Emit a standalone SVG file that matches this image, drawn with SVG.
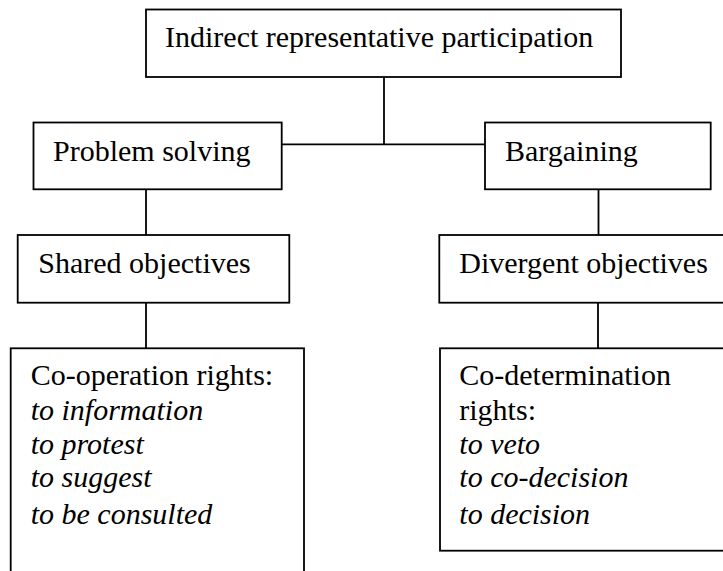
<svg xmlns="http://www.w3.org/2000/svg" width="723" height="571" viewBox="0 0 723 571">
<style>
.box{fill:#fff;stroke:#000;stroke-width:1.8}
.c{stroke:#000;stroke-width:1.8;fill:none}
</style>
<rect width="723" height="571" fill="#fff"/>
<g id="connectors">
<line class="c" x1="384" y1="77" x2="384" y2="144.3"/>
<line class="c" x1="281.7" y1="144.3" x2="485" y2="144.3"/>
<line class="c" x1="146" y1="189.3" x2="146" y2="235"/>
<line class="c" x1="598.5" y1="189.3" x2="598.5" y2="235"/>
<line class="c" x1="146" y1="302.7" x2="146" y2="348.3"/>
<line class="c" x1="598" y1="302.7" x2="598" y2="348.3"/>
</g>
<g font-family="Liberation Serif" font-size="30" fill="#000">
<g id="n-indirect">
<rect class="box" x="146" y="9.5" width="475" height="67.5"/>
<text x="165" y="47">Indirect representative participation</text>
</g>
<g id="n-problem">
<rect class="box" x="33.5" y="122.5" width="248.2" height="66.8"/>
<text x="53" y="161">Problem solving</text>
</g>
<g id="n-bargaining">
<rect class="box" x="485" y="122.5" width="225.7" height="66.8"/>
<text x="505" y="161">Bargaining</text>
</g>
<g id="n-shared">
<rect class="box" x="17.7" y="235" width="271.6" height="67.7"/>
<text x="38.3" y="273.3">Shared objectives</text>
</g>
<g id="n-divergent">
<rect class="box" x="439.3" y="235" width="290" height="67.7"/>
<text x="459.3" y="273.3">Divergent objectives</text>
</g>
<g id="n-cooperation">
<rect class="box" x="10.7" y="348.3" width="293.3" height="240"/>
<text x="30.7" y="385">Co-operation rights:</text>
<text x="30.7" y="420" font-style="italic">to information</text>
<text x="30.7" y="453.5" font-style="italic">to protest</text>
<text x="30.7" y="487" font-style="italic">to suggest</text>
<text x="30.7" y="523.5" font-style="italic">to be consulted</text>
</g>
<g id="n-codetermination">
<rect class="box" x="440" y="348.3" width="290" height="202.4"/>
<text x="459.3" y="384.5">Co-determination</text>
<text x="459.3" y="420">rights:</text>
<text x="459.3" y="454" font-style="italic">to veto</text>
<text x="459.3" y="487" font-style="italic">to co-decision</text>
<text x="459.3" y="523.5" font-style="italic">to decision</text>
</g>
</g>
</svg>
